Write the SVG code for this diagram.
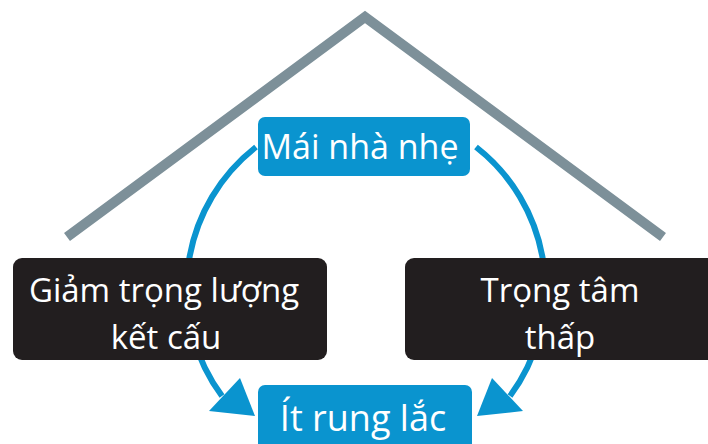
<svg xmlns="http://www.w3.org/2000/svg" width="708" height="444" viewBox="0 0 708 444">
<style>
.blue{fill:#0a94cf}
.dark{fill:#221e1f}
.t{font-family:"Open Sans","Noto Sans","DejaVu Sans",sans-serif;font-size:33px;fill:#ffffff;text-anchor:middle}
.arc{fill:none;stroke:#0a94cf;stroke-width:6}
.head{fill:#0a94cf}
</style>
<rect width="708" height="444" fill="#ffffff"/>
<g id="roof">
<polyline points="67,237 365,17 663,237" fill="none" stroke="#7d9099" stroke-width="10" stroke-linejoin="miter"/>
</g>
<g id="connectors">
<path class="arc" d="M256,147 A180,180 0 0 0 222,396"/>
<polygon class="head" points="240,378 209,411 255,416"/>
<path class="arc" d="M476,147 A180,180 0 0 1 510,396"/>
<polygon class="head" points="492,378 523,411 477,416"/>
</g>
<g id="node-mai-nha-nhe">
<rect class="blue" x="258" y="117" width="212" height="59" rx="7"/>
<text class="t" x="360" y="159" style="font-size:34px">Mái nhà nhẹ</text>
</g>
<g id="node-giam-trong-luong">
<rect class="dark" x="13" y="258" width="314" height="102" rx="9"/>
<text class="t" x="164" y="302">Giảm trọng lượng</text>
<text class="t" x="166" y="349">kết cấu</text>
</g>
<g id="node-trong-tam-thap">
<rect class="dark" x="405" y="258" width="313" height="102" rx="9"/>
<text class="t" x="560" y="302">Trọng tâm</text>
<text class="t" x="560" y="349">thấp</text>
</g>
<g id="node-it-rung-lac">
<rect class="blue" x="258" y="385" width="214" height="70" rx="7"/>
<text class="t" x="363" y="431" style="font-size:36px">Ít rung lắc</text>
</g>
</svg>
